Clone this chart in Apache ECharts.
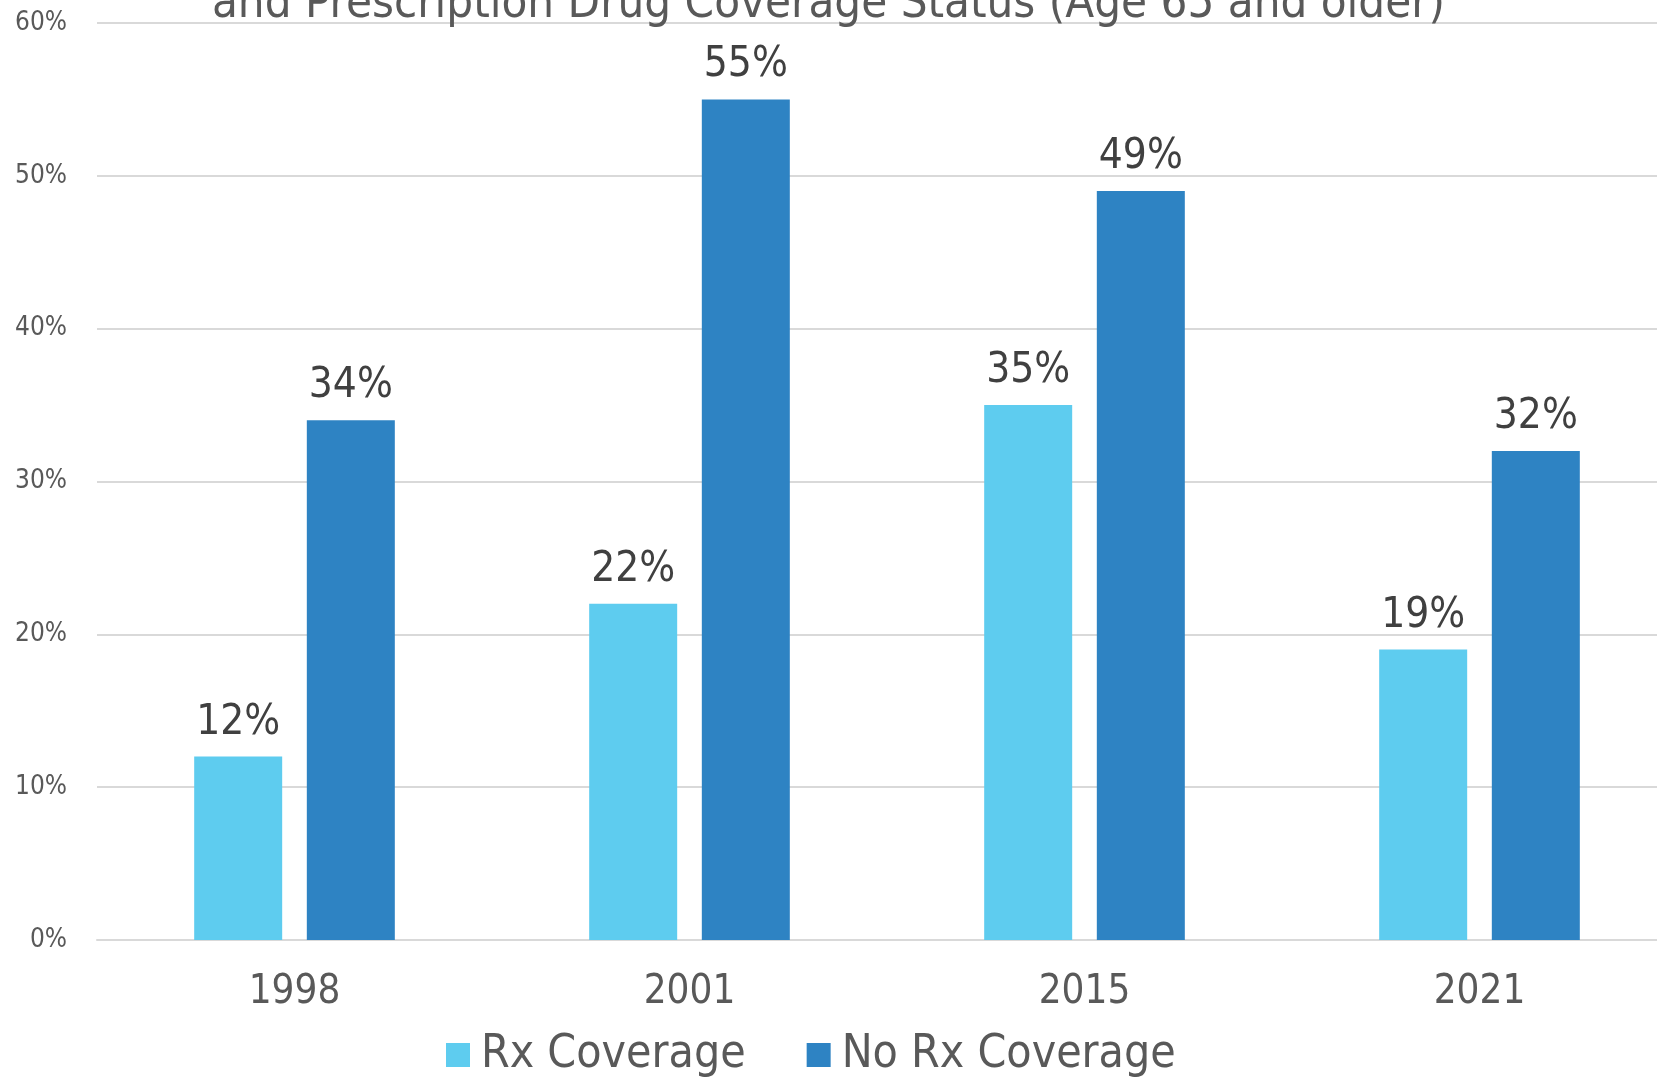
<!DOCTYPE html>
<html><head><meta charset="utf-8">
<script src="https://cdn.jsdelivr.net/npm/echarts@6/dist/echarts.min.js"></script>
<style>html,body{margin:0;padding:0;background:#fff}#c{width:1657px;height:1081px}</style>
</head><body><div id="c"></div>
<script>
const titleText = 'and Prescription Drug Coverage Status (Age 65 and older)';
const categories = ['1998', '2001', '2015', '2021'];
const rxCoverage = [12, 22, 35, 19];
const noRxCoverage = [34, 55, 49, 32];
const yTicks = [0, 10, 20, 30, 40, 50, 60];

const F = '"DejaVu Sans Condensed", "DejaVu Sans", sans-serif';
const chart = echarts.init(document.getElementById('c'));
chart.setOption({
  animation: false,
  backgroundColor: '#fff',
  title: {
    text: titleText, left: 'center', top: -24,
    textStyle: { fontFamily: F, fontSize: 47, fontWeight: 'normal', color: '#595959' }
  },
  legend: {
    left: 441, top: 1027, icon: 'rect', itemWidth: 24, itemHeight: 24, itemGap: 61,
    textStyle: { fontFamily: F, fontSize: 46, color: '#595959', padding: [0, 0, 0, 6] },
    data: ['Rx Coverage', 'No Rx Coverage']
  },
  grid: { left: 97, right: -20, top: 23, bottom: 141, outerBoundsMode: 'none', containLabel: false },
  xAxis: {
    type: 'category', data: categories,
    axisLine: { lineStyle: { color: '#d9d9d9', width: 2 } },
    axisTick: { show: false },
    axisLabel: { fontFamily: F, fontSize: 40, color: '#595959', margin: 33 }
  },
  yAxis: {
    type: 'value', min: yTicks[0], max: yTicks[yTicks.length - 1], interval: 10,
    axisLine: { show: false }, axisTick: { show: false },
    splitLine: { lineStyle: { color: '#d9d9d9', width: 2 } },
    axisLabel: { formatter: '{value}%', fontFamily: F, fontSize: 26, color: '#595959', margin: 30 }
  },
  series: [
    { name: 'Rx Coverage', type: 'bar', data: rxCoverage, barWidth: 88, barGap: '28%',
      itemStyle: { color: '#5ECCEF' },
      label: { show: true, position: 'top', distance: 13, formatter: '{c}%', fontFamily: F, fontSize: 42, color: '#404040' } },
    { name: 'No Rx Coverage', type: 'bar', data: noRxCoverage, barWidth: 88, barGap: '28%',
      itemStyle: { color: '#2E83C3' },
      label: { show: true, position: 'top', distance: 13, formatter: '{c}%', fontFamily: F, fontSize: 42, color: '#404040' } }
  ]
});
</script></body></html>
